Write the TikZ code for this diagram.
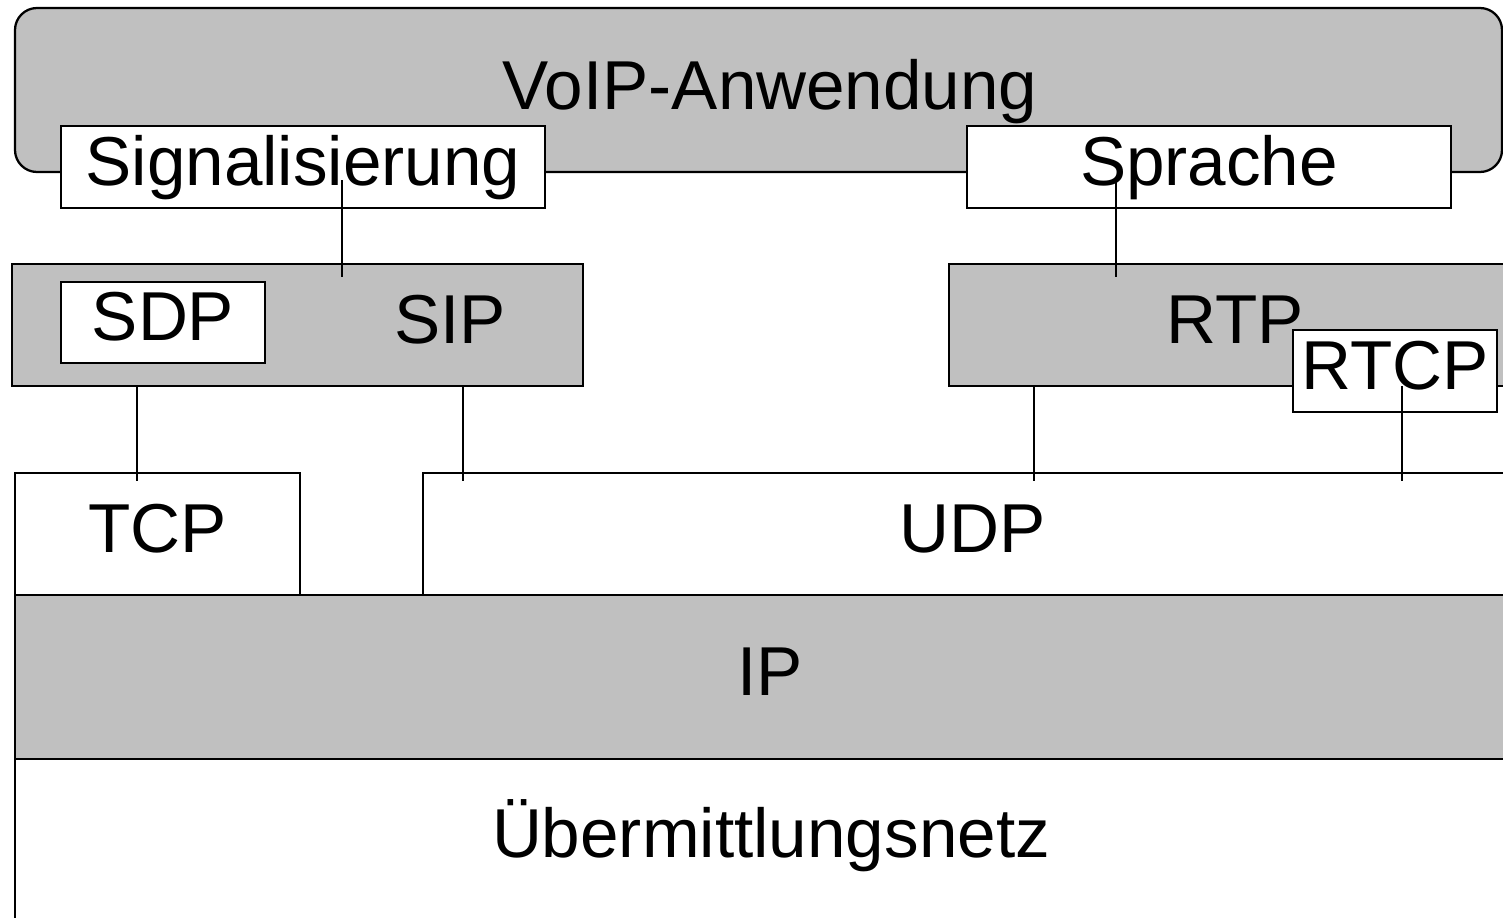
\documentclass[tikz,border=0pt]{standalone}
\usepackage{fontspec}
\setmainfont{Liberation Sans}
\usetikzlibrary{positioning}
\definecolor{laygray}{HTML}{C0C0C0}

\begin{document}
\begin{tikzpicture}
[x=1cm,y=-1cm,line width=0.65pt,font=\fontsize{19.7}{23}\selectfont]\tikzstyle{layer}
=[draw=black,fill=laygray,inner sep=0pt,text height=14.4pt,text depth=4.1pt]
\tikzstyle{plain}=[layer,fill=white]
\tikzstyle{lbl}=[inner sep=0pt,text height=14.4pt,text depth=4.1pt]
\useasboundingbox (0,0) rectangle (15.03,9.18);
\clip (0,0) rectangle (15.03,9.18);

% Anwendung
\node[layer,rounded corners=0.22cm,minimum width=14.87cm,minimum height=1.64cm] (app) at (7.585,0.90) {};
\node[lbl] (applbl) at (7.70,0.91) {VoIP-Anwendung};
\node[plain,minimum width=4.84cm,minimum height=0.82cm] (sig) at (3.03,1.67) {Signalisierung};
\node[plain,minimum width=4.84cm,minimum height=0.82cm] (spr) at (12.09,1.67) {Sprache};

% Protokolle
\node[layer,minimum width=5.71cm,minimum height=1.22cm] (sip) at (2.975,3.25) {};
\node[lbl] (siplbl) at (4.50,3.25) {SIP};
\node[plain,minimum width=2.04cm,minimum height=0.81cm] (sdp) at (1.63,3.225) {SDP};
\node[layer,minimum width=5.72cm,minimum height=1.22cm] (rtp) at (12.35,3.25) {RTP};
\node[plain,minimum width=2.04cm,minimum height=0.82cm] (rtcp) at (13.95,3.71) {RTCP};

% Transport und Netz
\node[plain,minimum width=2.85cm,minimum height=1.22cm] (tcp) at (1.575,5.34) {TCP};
\node[plain,minimum width=11.0cm,minimum height=1.22cm] (udp) at (9.73,5.34) {UDP};
\node[layer,minimum width=15.10cm,minimum height=1.64cm] (ip) at (7.70,6.77) {IP};
\node[plain,minimum width=15.10cm,minimum height=1.81cm] (net) at (7.70,8.495) {};
\node[lbl] (netlbl) at (7.71,8.39) {Übermittlungsnetz};

\path (3.42,1.80) coordinate (sigend) (3.42,2.77) coordinate (siptop)
      (11.16,1.80) coordinate (sprend) (11.16,2.77) coordinate (rtptop)
      (1.37,3.86) coordinate (sdpend) (1.37,4.81) coordinate (tcptop)
      (4.63,3.86) coordinate (sipend) (4.63,4.81) coordinate (udpa)
      (10.34,3.86) coordinate (rtpend) (10.34,4.81) coordinate (udpb)
      (14.02,3.86) coordinate (rtcpend) (14.02,4.81) coordinate (udpc);

\draw (sigend) -- (siptop);
\draw (sprend) -- (rtptop);
\draw (sdpend) -- (tcptop);
\draw (sipend) -- (udpa);
\draw (rtpend) -- (udpb);
\draw (rtcpend) -- (udpc);
\end{tikzpicture}
\end{document}
